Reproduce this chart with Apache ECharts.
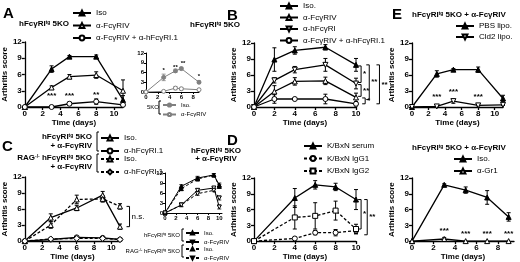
<!DOCTYPE html>
<html>
<head>
<meta charset="utf-8">
<script src="https://cdn.jsdelivr.net/npm/echarts@6/dist/echarts.min.js"></script>
<style>
  html, body { margin: 0; padding: 0; background: #fff; }
  #chart { width: 520px; height: 262px; }
</style>
</head>
<body>
<div id="chart"></div>
<script>
// ---- data ----
// A: main
const aDays = [0, 3, 5, 8, 11];
const aIso = [0, 7.0, 9.3, 9.3, 1.3];
const aIsoErr = [0, 0.6, 0.2, 0.3, 0.8];
const aFc4 = [0, 3.6, 5.6, 5.9, 3.0];
const aFc4Err = [0, 0.3, 0.4, 0.6, 2.0];
const aCombo = [0, 0, 0.6, 1.0, 0.4];
const aComboErr = [0, 0.1, 0.3, 0.5, 0.2];
const aStars = [[3, 2.0, '***'], [5, 2.0, '***'], [8, 2.3, '**'], [10.2, 1.3, '*']];
// A: inset (5KO)
const aiDays = [0, 3, 5, 6, 9];
const aiIso = [0, 4.5, 6.5, 7.2, 3.0];
const aiIsoErr = [0, 1.0, 0.5, 0.4, 0.4];
const aiFc4 = [0, 0.2, 1.2, 1.0, 0.7];
const aiFc4Err = [0, 0.2, 0.5, 0.4, 0.3];
const aiStars = [[3, 6.8, '*'], [5, 7.6, '**'], [6.3, 8.9, '**'], [9, 4.8, '*']];
// B
const bDays = [0, 2, 4, 7, 10];
const bIso = [0, 8.9, 10.6, 11.2, 7.9];
const bIsoErr = [0, 2.2, 0.7, 0.5, 1.2];
const bHr = [0, 5.0, 7.0, 7.9, 4.4];
const bHrErr = [0, 0.5, 0.6, 1.2, 1.0];
const bFc4 = [0, 2.9, 4.8, 4.9, 1.8];
const bFc4Err = [0, 1.1, 0.7, 0.7, 0.8];
const bCombo = [0, 1.5, 1.5, 1.5, 0.6];
const bComboErr = [0, 0.8, 0, 0.9, 0.4];
const bBrackets = [[10.5, 7.7, 4.6, '*'], [10.5, 4.2, 2.0, '**'], [10.9, 1.7, 0.6, '*'],
                   [11.3, 7.9, 1.4, '**'], [12.3, 7.9, 0.6, '**']];
// C: main
const cDays = [0, 3, 6, 9, 11];
const cIso = [0, 4.4, 6.2, 8.6, 2.7];
const cIsoErr = [0, 0.7, 0.5, 0.7, 0.5];
const cHr = [0, 0.3, 0.7, 0.6, 0.3];
const cHrErr = [0, 0.1, 0.2, 0.1, 0.1];
const cRagIso = [0, 3.0, 7.8, 7.9, 6.5];
const cRagIsoErr = [0, 0.6, 0.8, 0.6, 0.5];
const cRagHr = [0, 0.4, 0.5, 0.5, 0.3];
const cRagHrErr = [0, 0.1, 0.1, 0.2, 0.1];
const cBrackets = [[12.1, 6.5, 2.7, 'n.s.']];
// C: inset
const ciDays = [0, 3, 6, 9, 10];
const ciIso = [0, 8.0, 10.5, 11.4, 8.4];
const ciFc4 = [0, 2.4, 6.8, 7.5, 1.8];
const ciRagIso = [0, 7.3, 10.2, 11.4, 8.0];
const ciRagFc4 = [0, 2.4, 5.8, 6.8, 4.5];
const ciErr = [0, 0.5, 0.5, 0.4, 0.6];
// D
const dDays = [0, 4, 6, 8, 10];
const dSerum = [0, 8.2, 10.7, 10.3, 7.9];
const dSerumErr = [0, 1.8, 0.8, 0.7, 1.9];
const dIgG1 = [0, 0.5, 1.6, 1.6, 2.0];
const dIgG1Err = [0, 0.2, 0.4, 0.6, 0.6];
const dIgG2 = [0, 4.5, 4.8, 5.8, 2.3];
const dIgG2Err = [0, 2.2, 2.5, 1.8, 0.9];
const dBrackets = [[10.5, 7.9, 2.3, '*'], [11.1, 7.9, 1.2, '**']];
// E: top
const eDays = [0, 3, 5, 8, 11];
const ePbs = [0, 6.2, 7.0, 7.0, 1.6];
const ePbsErr = [0, 0.6, 0.2, 0.5, 0.6];
const eCld = [0, 0.1, 1.1, 0.3, 0.4];
const eCldErr = [0, 0.1, 0.4, 0.1, 0.1];
const eStars = [[3, 1.9, '***'], [5, 2.9, '***'], [8, 1.9, '***']];
// E: bottom
const fDays = [0, 3, 5, 7, 9];
const fIso = [0, 10.7, 9.7, 8.3, 4.6];
const fIsoErr = [0, 0.2, 0.6, 1.3, 0.8];
const fGr1 = [0, 0.4, 0, 0, 0];
const fGr1Err = [0, 0.3, 0, 0, 0];
const fStars = [[3, 1.9, '***'], [5, 1.4, '***'], [7, 1.4, '***'], [9, 1.4, '***']];

const xTicks10 = [0, 2, 4, 6, 8, 10];
const xTicks8 = [0, 2, 4, 6, 8];

// ---- building blocks ----
const FONT = '"Liberation Sans", Arial, sans-serif';
const K = '#000';
const GRAY = '#808080';
const LABELS = {};
const grids = [], xAxes = [], yAxes = [], series = [], legends = [], graphics = [];

function panel(box, xMax, xTicks, small) {
  const i = grids.length;
  const fs = small ? 6 : 8;
  const lw = small ? 1 : 1.3;
  const nameStyle = { fontSize: 8, fontWeight: 'bold', fontFamily: FONT, color: K };
  grids.push(box);
  xAxes.push({
    gridIndex: i, type: 'value', min: 0, max: xMax,
    axisLine: { show: true, lineStyle: { color: K, width: lw } },
    axisTick: { show: true, length: small ? 2 : 3, customValues: xTicks, lineStyle: { color: K, width: lw } },
    axisLabel: { customValues: xTicks, fontSize: fs, fontWeight: 'bold', fontFamily: FONT, color: K, margin: small ? 2 : 3 },
    splitLine: { show: false },
    name: small ? '' : 'Time (days)', nameLocation: 'middle', nameGap: 11, nameTextStyle: nameStyle
  });
  yAxes.push({
    gridIndex: i, type: 'value', min: 0, max: 12, interval: 3,
    axisLine: { show: true, lineStyle: { color: K, width: lw } },
    axisTick: { show: true, length: small ? 2 : 3, lineStyle: { color: K, width: lw } },
    axisLabel: { fontSize: fs, fontWeight: 'bold', fontFamily: FONT, color: K, margin: small ? 2 : 3 },
    splitLine: { show: false },
    name: small ? '' : 'Arthritis score', nameLocation: 'middle', nameGap: 11, nameTextStyle: nameStyle
  });
  return i;
}

function errBars(gi, days, vals, errs, color, lw) {
  return {
    type: 'custom', xAxisIndex: gi, yAxisIndex: gi, z: 2, silent: true,
    data: days.map((d, k) => [d, vals[k], errs[k]]),
    renderItem: (p, api) => {
      const x = api.value(0), y = api.value(1), e = api.value(2);
      if (!e) return null;
      const t = api.coord([x, y + e]), b = api.coord([x, Math.max(0, y - e)]);
      const st = { stroke: color, lineWidth: lw };
      return { type: 'group', children: [
        { type: 'line', shape: { x1: t[0], y1: t[1], x2: b[0], y2: b[1] }, style: st },
        { type: 'line', shape: { x1: t[0] - 2, y1: t[1], x2: t[0] + 2, y2: t[1] }, style: st },
        { type: 'line', shape: { x1: b[0] - 2, y1: b[1], x2: b[0] + 2, y2: b[1] }, style: st }
      ] };
    }
  };
}

function addLine(gi, name, label, days, vals, errs, o) {
  LABELS[name] = label;
  const color = o.color || K;
  const lw = o.lw || 1.3;
  series.push({
    type: 'line', name, xAxisIndex: gi, yAxisIndex: gi, z: 3,
    data: days.map((d, k) => [d, vals[k]]),
    symbol: o.sym, symbolSize: o.size || 5, symbolRotate: o.rot || 0,
    lineStyle: { color, width: lw, type: o.dash ? [3, 2] : 'solid' },
    itemStyle: { color: o.fill ? color : '#fff', borderColor: color, borderWidth: 1 },
    emphasis: { disabled: true }
  });
  if (errs) series.push(errBars(gi, days, vals, errs, color, o.small ? 0.8 : 1));
}

function textMarks(gi, arr, size) {
  return {
    type: 'custom', xAxisIndex: gi, yAxisIndex: gi, z: 5, silent: true,
    data: arr.map(d => [d[0], d[1]]),
    renderItem: (p, api) => {
      const pt = api.coord([api.value(0), api.value(1)]);
      return { type: 'text', x: pt[0], y: pt[1], style: {
        text: arr[p.dataIndex][2], font: 'bold ' + size + 'px ' + FONT, fill: K, align: 'center', verticalAlign: 'middle' } };
    }
  };
}

function brackets(gi, arr, bold) {
  return {
    type: 'custom', xAxisIndex: gi, yAxisIndex: gi, z: 5, silent: true, clip: false,
    data: arr.map(b => [b[0], b[1]]),
    renderItem: (p, api) => {
      const b = arr[p.dataIndex];
      const t = api.coord([b[0], b[1]]), u = api.coord([b[0], b[2]]);
      const x = t[0];
      return { type: 'group', children: [
        { type: 'polyline', shape: { points: [[x - 3, t[1]], [x, t[1]], [x, u[1]], [x - 3, u[1]]] },
          style: { stroke: K, lineWidth: 1, fill: null } },
        { type: 'text', x: x + 2, y: (t[1] + u[1]) / 2, style: {
          text: b[3], font: (bold ? 'bold ' : '') + '8px ' + FONT, fill: K, align: 'left', verticalAlign: 'middle' } }
      ] };
    }
  };
}

// pitch = distance between legend rows
function legend(left, top, names, small, pitch) {
  const h = small ? 4 : 6;
  legends.push({
    left, top, height: 60, orient: 'vertical', data: names, selectedMode: false, padding: 0,
    itemWidth: small ? 13 : 18, itemHeight: h, itemGap: pitch - h,
    textStyle: { fontSize: small ? 6 : 8, color: K, fontFamily: FONT },
    formatter: n => LABELS[n]
  });
}

const rich = size => ({
  b: { fontSize: size, fontWeight: 'bold', fontFamily: FONT, fill: K },
  n: { fontSize: size, fontFamily: FONT, fill: K },
  s: { fontSize: Math.round(size * 0.62), fontWeight: 'bold', fontFamily: FONT, fill: K, verticalAlign: 'top' },
  sn: { fontSize: Math.round(size * 0.62), fontFamily: FONT, fill: K, verticalAlign: 'top' }
});
function txt(x, y, text, o) {
  o = o || {};
  graphics.push({ type: 'text', x, y, silent: true, style: {
    text, rich: rich(o.size || 8), fill: K,
    font: (o.bold ? 'bold ' : '') + (o.size || 8) + 'px ' + FONT,
    align: o.align || 'left', verticalAlign: 'middle' } });
}
function bracketShape(x, y1, y2) {
  graphics.push({ type: 'polyline', silent: true, shape: { points: [[x + 2, y1], [x, y1], [x, y2], [x + 2, y2]] },
    style: { stroke: K, lineWidth: 1, fill: null } });
}
const HFC = '{b|hFcγRI}{s|tg}{b| 5KO}';
const HFC_N = '{n|hFcγRI}{sn|tg}{n| 5KO}';

// ---- panel A ----
const gA = panel({ left: 22, top: 42, width: 101, height: 65 }, 11, xTicks10, false);
addLine(gA, 'a1', 'Iso', aDays, aIso, aIsoErr, { sym: 'triangle', fill: true });
addLine(gA, 'a2', 'α-FcγRIV', aDays, aFc4, aFc4Err, { sym: 'triangle' });
addLine(gA, 'a3', 'α-FcγRIV + α-hFcγRI.1', aDays, aCombo, aComboErr, { sym: 'circle' });
series.push(textMarks(gA, aStars, 8));
legend(72, 9, ['a1', 'a2', 'a3'], false, 10.5);
txt(3, 14, 'A', { bold: true, size: 15 });
txt(19, 24, HFC);

const gAi = panel({ left: 146, top: 53, width: 53, height: 39 }, 9, xTicks8, true);
addLine(gAi, 'ai1', 'Iso.', aiDays, aiIso, aiIsoErr, { sym: 'circle', fill: true, color: GRAY, size: 4, lw: 1, small: true });
addLine(gAi, 'ai2', 'α-FcγRIV', aiDays, aiFc4, aiFc4Err, { sym: 'circle', color: GRAY, size: 4, lw: 1, small: true });
series.push(textMarks(gAi, aiStars, 6));
legend(162, 102, ['ai1', 'ai2'], true, 7.5);
txt(147, 107, '5KO', { size: 6 });
bracketShape(159, 101, 114);

// ---- panel B ----
const gB = panel({ left: 254, top: 43, width: 102, height: 64 }, 10, xTicks10, false);
addLine(gB, 'b1', 'Iso.', bDays, bIso, bIsoErr, { sym: 'triangle', fill: true });
addLine(gB, 'b2', 'α-FcγRIV', bDays, bFc4, bFc4Err, { sym: 'triangle' });
addLine(gB, 'b3', 'α-hFcγRI', bDays, bHr, bHrErr, { sym: 'triangle', rot: 180 });
addLine(gB, 'b4', 'α-FcγRIV + α-hFcγRI.1', bDays, bCombo, bComboErr, { sym: 'circle' });
series.push(brackets(gB, bBrackets, true));
legend(279, 2, ['b1', 'b2', 'b3', 'b4'], false, 9.5);
txt(227, 16, 'B', { bold: true, size: 15 });
txt(190, 25, HFC);

// ---- panel C ----
const gC = panel({ left: 22, top: 177, width: 98, height: 65 }, 11, xTicks10, false);
addLine(gC, 'c1', 'Iso.', cDays, cIso, cIsoErr, { sym: 'triangle' });
addLine(gC, 'c2', 'α-hFcγRI.1', cDays, cHr, cHrErr, { sym: 'circle' });
addLine(gC, 'c3', 'Iso.', cDays, cRagIso, cRagIsoErr, { sym: 'triangle', dash: true });
addLine(gC, 'c4', 'α-hFcγRI.1', cDays, cRagHr, cRagHrErr, { sym: 'diamond', dash: true, size: 6 });
series.push(brackets(gC, cBrackets, false));
legend(100, 134, ['c1', 'c2'], false, 11);
legend(100, 155, ['c3', 'c4'], false, 11);
txt(2, 147, 'C', { bold: true, size: 15 });
txt(92, 137, HFC, { align: 'right' });
txt(92, 146, '+ α-FcγRIV', { bold: true, align: 'right' });
txt(92, 158, '{b|RAG}{s|-/-}{b| hFcγRI}{s|tg}{b| 5KO}', { align: 'right' });
txt(92, 167, '+ α-FcγRIV', { bold: true, align: 'right' });
bracketShape(97, 132, 151);
bracketShape(97, 154, 172);

const gCi = panel({ left: 165, top: 173, width: 57, height: 40 }, 10.5, xTicks10, true);
addLine(gCi, 'ci1', 'Iso.', ciDays, ciIso, ciErr, { sym: 'triangle', fill: true, size: 4, lw: 1, small: true });
addLine(gCi, 'ci2', 'α-FcγRIV', ciDays, ciFc4, ciErr, { sym: 'triangle', rot: 180, size: 4, lw: 1, small: true });
addLine(gCi, 'ci3', 'Iso.', ciDays, ciRagIso, ciErr, { sym: 'triangle', fill: true, dash: true, size: 4, lw: 1, small: true });
addLine(gCi, 'ci4', 'α-FcγRIV', ciDays, ciRagFc4, ciErr, { sym: 'triangle', rot: 180, dash: true, size: 4, lw: 1, small: true });
legend(185, 230, ['ci1', 'ci2'], true, 7);
legend(185, 246, ['ci3', 'ci4'], true, 7);
txt(180, 235, HFC_N, { size: 6, align: 'right' });
txt(180, 251, '{n|RAG}{sn|-/-}{n| hFcγRI}{sn|tg}{n| 5KO}', { size: 6, align: 'right' });
bracketShape(182, 229, 241);
bracketShape(182, 245, 257);

// ---- panel D ----
const gD = panel({ left: 254, top: 178, width: 102, height: 64 }, 10, xTicks10, false);
addLine(gD, 'd1', 'K/BxN serum', dDays, dSerum, dSerumErr, { sym: 'triangle', fill: true });
addLine(gD, 'd2', 'K/BxN IgG1', dDays, dIgG1, dIgG1Err, { sym: 'circle', dash: true });
addLine(gD, 'd3', 'K/BxN IgG2', dDays, dIgG2, dIgG2Err, { sym: 'rect', dash: true });
series.push(brackets(gD, dBrackets, true));
legend(303, 142, ['d1', 'd2', 'd3'], false, 10.5);
txt(227, 141, 'D', { bold: true, size: 15 });
txt(216, 151, HFC, { align: 'center' });
txt(216, 159, '+ α-FcγRIV', { bold: true, align: 'center' });

// ---- panel E ----
const gE = panel({ left: 412, top: 43, width: 91, height: 64 }, 11, xTicks10, false);
addLine(gE, 'e1', 'PBS lipo.', eDays, ePbs, ePbsErr, { sym: 'triangle', fill: true });
addLine(gE, 'e2', 'Cld2 lipo.', eDays, eCld, eCldErr, { sym: 'triangle', rot: 180 });
series.push(textMarks(gE, eStars, 8));
legend(455, 22, ['e1', 'e2'], false, 9);
txt(392, 15, 'E', { bold: true, size: 15 });
txt(412, 15, '{b|hFcγRI}{s|tg}{b| 5KO + α-FcγRIV}');

const gF = panel({ left: 412, top: 178, width: 102, height: 64 }, 9.5, xTicks8, false);
addLine(gF, 'f1', 'Iso.', fDays, fIso, fIsoErr, { sym: 'triangle', fill: true });
addLine(gF, 'f2', 'α-Gr1', fDays, fGr1, fGr1Err, { sym: 'triangle' });
series.push(textMarks(gF, fStars, 8));
legend(453, 155, ['f1', 'f2'], false, 10);
txt(412, 148, '{b|hFcγRI}{s|tg}{b| 5KO + α-FcγRIV}');

const chart = echarts.init(document.getElementById('chart'));
chart.setOption({
  animation: false,
  backgroundColor: '#fff',
  textStyle: { fontFamily: FONT },
  grid: grids,
  xAxis: xAxes,
  yAxis: yAxes,
  legend: legends,
  series: series,
  graphic: graphics
});
</script>
</body>
</html>
